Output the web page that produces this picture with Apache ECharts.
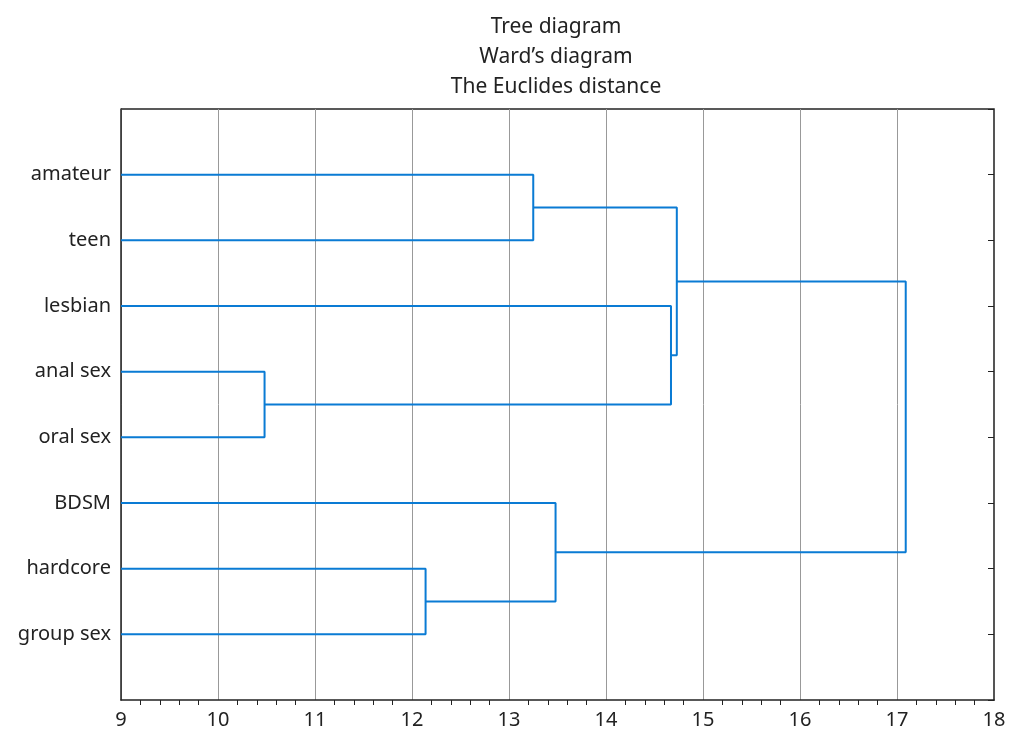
<!DOCTYPE html>
<html>
<head>
<meta charset="utf-8">
<script src="https://cdn.jsdelivr.net/npm/echarts@6/dist/echarts.min.js"></script>
<style>html,body{margin:0;padding:0;background:#fff}#c{width:1012px;height:734px}</style>
</head>
<body>
<div id="c"></div>
<script>
// Leaves in display order (top to bottom)
const categories = ['amateur', 'teen', 'lesbian', 'anal sex', 'oral sex', 'BDSM', 'hardcore', 'group sex'];
// Merges: child A, child B (leaf index 0..7, or 8+ for earlier merges), linkage distance
const mergeLeft = [0, 3, 2, 8, 6, 5, 11];
const mergeRight = [1, 4, 9, 10, 7, 12, 13];
const mergeHeight = [13.25, 10.48, 14.67, 14.73, 12.14, 13.48, 17.09];
const xTicks = [9, 10, 11, 12, 13, 14, 15, 16, 17, 18];
const titleLines = ['Tree diagram', 'Ward\u2019s diagram', 'The Euclides distance'];

const leafStart = xTicks[0];
const nodeX = [], nodeY = [];
categories.forEach((c, i) => { nodeX.push(leafStart); nodeY.push(i + 1); });
const series = [];
mergeHeight.forEach((h, k) => {
  const a = mergeLeft[k], b = mergeRight[k];
  series.push({
    type: 'line', symbol: 'none', silent: true,
    lineStyle: { color: '#0a7bd4', width: 2 },
    data: [[nodeX[a], nodeY[a]], [h, nodeY[a]], [h, nodeY[b]], [nodeX[b], nodeY[b]]]
  });
  nodeX.push(h); nodeY.push((nodeY[a] + nodeY[b]) / 2);
});

const chart = echarts.init(document.getElementById('c'));
chart.setOption({
  animation: false,
  title: {
    text: titleLines.join('\n'), left: 551, top: 7, textAlign: 'center',
    textStyle: { fontFamily: 'Noto Sans', fontWeight: 'normal', fontSize: 21, color: '#222', lineHeight: 30 }
  },
  grid: { left: 121, right: 18, top: 109, bottom: 34 },
  xAxis: {
    type: 'value', min: 9, max: 18, interval: 1,
    axisLine: { show: true, onZero: false, lineStyle: { color: '#222', width: 1.5 } },
    axisTick: { show: false },
    minorTick: { show: true, splitNumber: 5, length: 5, inside: true, lineStyle: { color: '#222' } },
    axisLabel: { fontFamily: 'Noto Sans', fontSize: 20, color: '#222', margin: 10 },
    splitLine: { show: true, lineStyle: { color: '#999', width: 1 } }
  },
  yAxis: [{
    type: 'value', min: 0, max: 9, interval: 1, inverse: true,
    axisLine: { show: true, onZero: false, lineStyle: { color: '#222', width: 1.5 } },
    axisTick: { show: false },
    axisLabel: {
      fontFamily: 'Noto Sans', fontSize: 20, color: '#222', margin: 10,
      formatter: v => categories[v - 1] || ''
    },
    splitLine: { show: false }
  }, {
    type: 'value', min: 0, max: 9, interval: 1, inverse: true, position: 'right',
    axisLine: { show: true, onZero: false, lineStyle: { color: '#555', width: 2 } },
    axisTick: { show: true, inside: true, length: 6, lineStyle: { color: '#222' } },
    axisLabel: { show: false },
    splitLine: { show: false }
  }],
  graphic: [{
    type: 'line', silent: true,
    shape: { x1: 121, y1: 109, x2: 994, y2: 109 },
    style: { stroke: '#222', lineWidth: 1.5 }
  }],
  series: series
});
</script>
</body>
</html>
